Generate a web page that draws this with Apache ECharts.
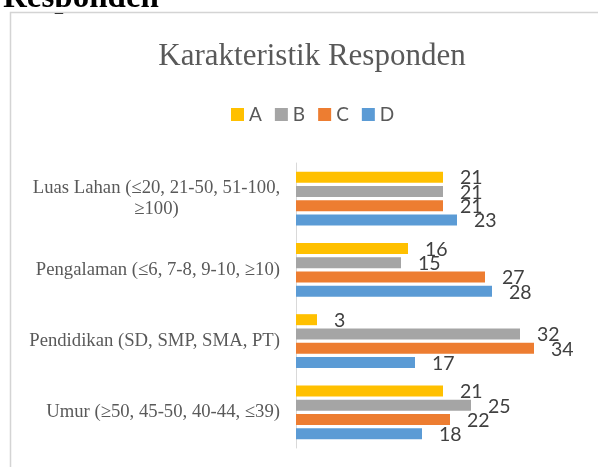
<!DOCTYPE html>
<html>
<head>
<meta charset="utf-8">
<script src="https://cdn.jsdelivr.net/npm/echarts@6/dist/echarts.min.js"></script>
<style>html,body{margin:0;padding:0;background:#fff}#c{width:598px;height:467px}</style>
</head>
<body>
<div id="c"></div>
<script>
// bottom-to-top order on the category axis
var categories = ['Umur (≥50, 45-50, 40-44, ≤39)', 'Pendidikan (SD, SMP, SMA, PT)', 'Pengalaman (≤6, 7-8, 9-10, ≥10)', 'Luas Lahan (≤20, 21-50, 51-100, ≥100)'];
var seriesNames = ['A', 'B', 'C', 'D'];
var valuesA = [21, 3, 16, 21];
var valuesB = [25, 32, 15, 21];
var valuesC = [22, 34, 27, 21];
var valuesD = [18, 17, 28, 23];
var titleText = 'Karakteristik Responden';
var headingText = 'Responden';

var colors = ['#FFC000', '#A5A5A5', '#ED7D31', '#5B9BD5'];
var allValues = [valuesA, valuesB, valuesC, valuesD];

var chart = echarts.init(document.getElementById('c'), null, {renderer: 'canvas'});

function labelFormatter(v) {
  if (v.indexOf('Luas Lahan') === 0) {
    return '{c|Luas Lahan (≤20, 21-50, 51-100,}\n{c|≥100)}';
  }
  return v;
}

var series = seriesNames.map(function (n, i) {
  return {
    name: n,
    type: 'bar',
    data: allValues[i],
    barWidth: 11,
    barGap: '30%',
    itemStyle: {color: colors[i]},
    label: {
      show: true,
      position: 'right',
      distance: 17,
      offset: [0, 1],
      fontFamily: 'Lato',
      fontSize: 19.5,
      color: '#404040'
    }
  };
});

chart.setOption({
  animation: false,
  backgroundColor: '#fff',
  title: {
    text: titleText,
    left: 307,
    textAlign: 'center',
    top: 36,
    textStyle: {fontFamily: 'Liberation Serif', fontSize: 31, fontWeight: 'normal', color: '#595959'}
  },
  legend: {
    data: seriesNames,
    left: 226,
    top: 100,
    itemWidth: 13,
    itemHeight: 13,
    itemGap: 13,
    icon: 'rect',
    textStyle: {fontFamily: 'Lato', fontSize: 19, color: '#595959'}
  },
  grid: {left: 296, right: 22, top: 163, bottom: 19, containLabel: false},
  xAxis: {
    type: 'value', min: 0, max: 40, show: false
  },
  yAxis: {
    type: 'category',
    data: categories,
    axisLine: {show: true, lineStyle: {color: '#d9d9d9', width: 1}},
    axisTick: {show: false},
    axisLabel: {
      formatter: labelFormatter,
      margin: 16,
      fontFamily: 'Liberation Serif',
      fontSize: 18.7,
      color: '#595959',
      lineHeight: 21.7,
      rich: {c: {width: 247, align: 'center', fontFamily: 'Liberation Serif', fontSize: 18.7, color: '#595959', lineHeight: 21.7}}
    }
  },
  series: series,
  graphic: [
    {type: 'text', x: 3, y: -18, style: {text: headingText, fontFamily: 'Liberation Serif', fontWeight: 'bold', fontSize: 33, fill: '#000'}, z: 1},
    {type: 'rect', shape: {x: 0, y: 7, width: 200, height: 5}, style: {fill: '#fff'}, z: 2},
    {type: 'rect', shape: {x: 10.5, y: 12.5, width: 600, height: 470}, style: {fill: 'none', stroke: '#d4d4d4', lineWidth: 1.5}, z: 3}
  ]
});
</script>
</body>
</html>
